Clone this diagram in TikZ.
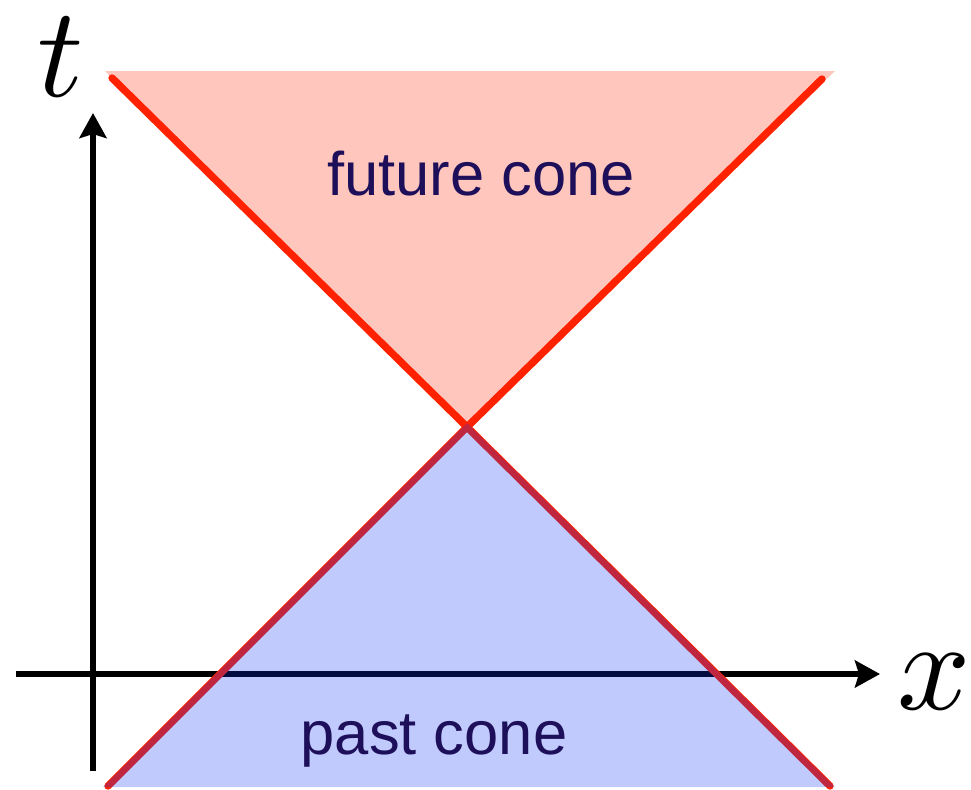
\documentclass[tikz,border=0pt]{standalone}
\usepackage{fontspec}
\newfontfamily\labelfont{Liberation Sans}
\usetikzlibrary{arrows.meta}
\definecolor{conered}{RGB}{255,34,0}
\definecolor{futurefill}{RGB}{255,198,190}
\definecolor{pastblue}{RGB}{11,50,248}
\definecolor{labelnavy}{RGB}{30,15,90}
\tikzset{
  coneline/.style={draw=conered, line width=4.2pt, line cap=round},
  axisline/.style={draw=black, line width=3.3pt, -{Stealth[length=0.5cm,width=0.54cm,inset=0.08cm]}},
  conelabel/.style={font=\labelfont\fontsize{35}{40}\selectfont, text=labelnavy, anchor=base, inner sep=0pt},
  axislabel/.style={scale=7.3, anchor=base, inner sep=0pt}
}
\begin{document}
\begin{tikzpicture}[x=0.02cm,y=-0.02cm]
\useasboundingbox (0,0) rectangle (971,789);
% key points
\coordinate (apex) at (467,427);
\coordinate (ful) at (112,78);
\coordinate (fur) at (822,79);
\coordinate (pal) at (108,786);
\coordinate (par) at (830,786);
\coordinate (tstart) at (93,771);
\coordinate (tend) at (93,113);
\coordinate (xstart) at (16,674);
\coordinate (xend) at (880,674);
% future cone fill
\fill[futurefill] (105,71) -- (835,71) -- (apex) -- cycle;
\draw[coneline] (ful) -- (apex) -- (fur);
% axes
\draw[axisline] (tstart) -- (tend);
\draw[axisline] (xstart) -- (xend);
% past cone lines
\draw[coneline] (pal) -- (apex) -- (par);
% past cone fill (transparent overlay)
\fill[pastblue, fill opacity=0.26] (103,787) -- (467,423) -- (835,787) -- cycle;
% labels
\node[conelabel] (future) at (481,195) {future cone};
\node[conelabel] (past) at (434,754) {past cone};
\node[axislabel] (tlabel) at (61,96) {$t$};
\node[axislabel] (xlabel) at (934,709) {$x$};
\end{tikzpicture}
\end{document}
